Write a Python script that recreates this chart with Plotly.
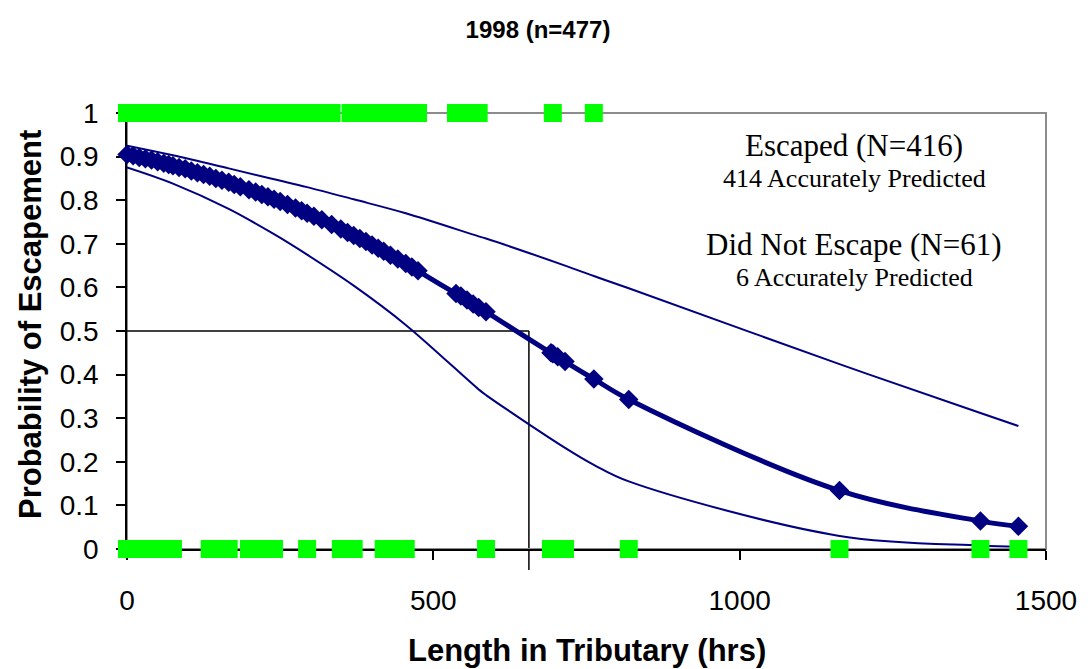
import plotly.graph_objects as go

# ---------------- data ----------------
title_text = "1998 (n=477)"
x_label = "Length in Tributary (hrs)"
y_label = "Probability of Escapement"

x_tick_vals = [0, 500, 1000, 1500]
x_tick_text = ["0", "500", "1000", "1500"]
y_tick_vals = [0, 0.1, 0.2, 0.3, 0.4, 0.5, 0.6, 0.7, 0.8, 0.9, 1.0]
y_tick_text = ["0", "0.1", "0.2", "0.3", "0.4", "0.5", "0.6", "0.7", "0.8", "0.9", "1"]

# fish that escaped (plotted at probability 1)
escaped_hrs = [0, 8, 15, 22, 30, 38, 45, 52, 60, 68, 75, 85, 95, 105, 115, 125,
               135, 145, 155, 165, 172, 180, 190, 200, 210, 220, 228, 235, 245,
               255, 262, 270, 280, 290, 300, 310, 318, 325, 334, 365, 372, 380,
               390, 400, 410, 418, 425, 432, 440, 447, 455, 462, 468, 475,
               537, 545, 555, 565, 574, 695, 762]
escaped_val = [1] * len(escaped_hrs)

# fish that did not escape (plotted at probability 0)
not_escaped_hrs = [0, 10, 20, 30, 40, 50, 60, 68, 75, 135, 145, 155, 166,
                   199, 210, 220, 230, 240, 294, 349, 360, 370, 419, 430, 442,
                   455, 586, 692, 703, 715, 819, 1163, 1393, 1455]
not_escaped_val = [0] * len(not_escaped_hrs)

# predicted probability of escapement
pred_hrs = [0, 10, 20, 30, 40, 50, 60, 68, 75, 85, 95, 105, 115, 125, 135, 145,
            155, 166, 175, 185, 199, 210, 220, 230, 240, 250, 262, 275, 285,
            294, 305, 318, 334, 349, 360, 370, 380, 390, 400, 410, 419, 430,
            442, 455, 465, 475, 537, 545, 555, 565, 574, 586, 692, 695, 703,
            715, 762, 819, 1163, 1393, 1455]
pred_prob = [0.905, 0.902, 0.898, 0.895, 0.892, 0.888, 0.885, 0.882, 0.879,
             0.875, 0.872, 0.867, 0.863, 0.859, 0.855, 0.850, 0.846, 0.841,
             0.836, 0.831, 0.824, 0.819, 0.813, 0.808, 0.802, 0.797, 0.790,
             0.782, 0.776, 0.770, 0.763, 0.755, 0.744, 0.734, 0.726, 0.719,
             0.712, 0.705, 0.697, 0.690, 0.683, 0.674, 0.665, 0.655, 0.647,
             0.638, 0.586, 0.580, 0.571, 0.562, 0.554, 0.544, 0.450, 0.448,
             0.441, 0.430, 0.390, 0.343, 0.134, 0.064, 0.052]

# confidence limits
ci_hrs = [0, 75, 166, 240, 294, 370, 455, 574, 586, 715, 762, 819, 1163, 1393, 1455]
ci_upper = [0.925, 0.903, 0.873, 0.848, 0.830, 0.802, 0.770, 0.717, 0.712,
            0.650, 0.626, 0.598, 0.424, 0.312, 0.282]
ci_lower = [0.875, 0.838, 0.780, 0.722, 0.675, 0.604, 0.514, 0.366, 0.353,
            0.232, 0.193, 0.155, 0.030, 0.008, 0.005]

threshold_prob = 0.5
threshold_hrs = 656

x_range = [0, 1500]
y_range = [0, 1]

# ---------------- styling ----------------
NAVY = "#000080"
GREEN = "#00FF00"
SANS = "Liberation Sans, Arial, sans-serif"
SERIF = "Liberation Serif, Times New Roman, serif"

fig = go.Figure()

fig.add_trace(go.Scatter(x=ci_hrs, y=ci_upper, mode="lines",
                         line=dict(color=NAVY, width=2, shape="spline"),
                         hoverinfo="skip"))
fig.add_trace(go.Scatter(x=ci_hrs, y=ci_lower, mode="lines",
                         line=dict(color=NAVY, width=2, shape="spline"),
                         hoverinfo="skip"))
fig.add_trace(go.Scatter(x=pred_hrs, y=pred_prob, mode="lines+markers",
                         line=dict(color=NAVY, width=5, shape="spline"),
                         marker=dict(symbol="diamond", size=15, color=NAVY,
                                     line=dict(width=0)),
                         cliponaxis=False))
fig.add_trace(go.Scatter(x=escaped_hrs, y=escaped_val, mode="markers",
                         marker=dict(symbol="square", size=18, color=GREEN,
                                     line=dict(width=0)),
                         cliponaxis=False))
fig.add_trace(go.Scatter(x=not_escaped_hrs, y=not_escaped_val, mode="markers",
                         marker=dict(symbol="square", size=18, color=GREEN,
                                     line=dict(width=0)),
                         cliponaxis=False))

L, R, T, B = 127, 42, 113, 120
W, H = 1088, 669
plot_h = H - T - B
plot_w = W - L - R

# threshold guide lines
fig.add_shape(type="line", xref="x", yref="y",
              x0=x_range[0], x1=threshold_hrs, y0=threshold_prob, y1=threshold_prob,
              line=dict(color="black", width=1.5), layer="below")
thr_paper_x = (threshold_hrs - x_range[0]) / (x_range[1] - x_range[0])
thr_paper_y = (threshold_prob - y_range[0]) / (y_range[1] - y_range[0])
fig.add_shape(type="line", xref="paper", yref="paper",
              x0=thr_paper_x, x1=thr_paper_x, y0=thr_paper_y, y1=-21 / plot_h,
              line=dict(color="black", width=1.5), layer="below")
# plot-area border (grey)
fig.add_shape(type="rect", xref="paper", yref="paper", x0=0, x1=1, y0=0, y1=1,
              line=dict(color="#8c8c8c", width=2), layer="below")

ann_x = (854 - L) / plot_w
for txt, ypx, size in [("Escaped (N=416)", 145, 31),
                       ("414 Accurately Predicted", 178, 26),
                       ("Did Not Escape (N=61)", 244, 31),
                       ("6 Accurately Predicted", 277, 26)]:
    fig.add_annotation(text=txt, xref="paper", yref="paper",
                       x=ann_x, y=(549 - ypx) / plot_h,
                       xanchor="center", yanchor="middle", showarrow=False,
                       font=dict(family=SERIF, size=size, color="black"))

fig.add_annotation(text="<b>" + x_label + "</b>", xref="paper", yref="paper",
                   x=0.5, y=-(650 - 549) / plot_h, xanchor="center", yanchor="middle",
                   showarrow=False, font=dict(family=SANS, size=31, color="black"))
fig.add_annotation(text="<b>" + y_label + "</b>", xref="paper", yref="paper",
                   x=-(127 - 30) / plot_w, y=(549 - 325) / plot_h,
                   xanchor="center", yanchor="middle",
                   textangle=-90, showarrow=False,
                   font=dict(family=SANS, size=31, color="black"))

fig.update_layout(
    width=W, height=H,
    margin=dict(l=L, r=R, t=T, b=B),
    paper_bgcolor="white",
    plot_bgcolor="rgba(0,0,0,0)",
    showlegend=False,
    title=dict(text="<b>" + title_text + "</b>", x=538 / W, xanchor="center",
               y=1 - 30 / H, yanchor="middle", yref="container",
               font=dict(family=SANS, size=24, color="black")),
    xaxis=dict(range=x_range, tickvals=x_tick_vals, ticktext=x_tick_text,
               showgrid=False, zeroline=False, showline=True, linecolor="black",
               linewidth=1.5, ticks="outside", ticklen=9, tickcolor="black",
               tickwidth=1.5, ticklabelstandoff=17, layer="below traces",
               tickfont=dict(family=SANS, size=28, color="black")),
    yaxis=dict(range=y_range, tickvals=y_tick_vals, ticktext=y_tick_text,
               showgrid=False, zeroline=False, showline=True, linecolor="black",
               linewidth=1.5, ticks="outside", ticklen=9, tickcolor="black",
               tickwidth=1.5, ticklabelstandoff=12, layer="below traces",
               tickfont=dict(family=SANS, size=28, color="black")),
)

fig.write_html(
    "out.html",
    config={"displayModeBar": False},
    post_script="document.body.style.margin='0';document.body.style.padding='0';"
                "document.body.style.overflow='hidden';",
)
